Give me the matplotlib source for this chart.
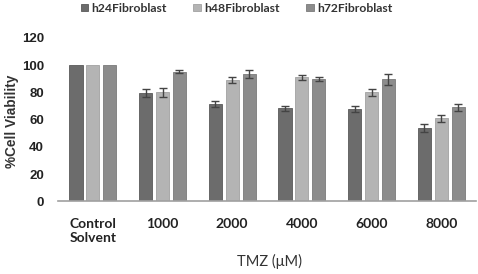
import numpy as np
import matplotlib
matplotlib.use('Agg')
import matplotlib.pyplot as plt

# data
categories = ['Control\nSolvent', '1000', '2000', '4000', '6000', '8000']
series = ['h24Fibroblast', 'h48Fibroblast', 'h72Fibroblast']
h24 = [100, 79.5, 71.5, 68.3, 67.8, 54]
h48 = [100, 80, 89, 91, 80.2, 61]
h72 = [100, 95.2, 93.2, 90, 89.5, 69]
h24_err = [0, 3, 2.5, 2, 2.5, 3]
h48_err = [0, 3.5, 2, 2, 2.5, 2.5]
h72_err = [0, 1.2, 3, 1.5, 4, 2.5]
colors = ['#6c6c6c', '#b4b4b4', '#8c8c8c']
edges = ['#5a5a5a', '#a2a2a2', '#7a7a7a']

fig = plt.figure(figsize=(4.78, 2.74), dpi=100)
ax = fig.add_axes([0.1213, 0.2646, 0.8747, 0.5974])

x = np.arange(len(categories))
width = 0.19
step = 0.243
for i, (vals, errs) in enumerate(zip([h24, h48, h72], [h24_err, h48_err, h72_err])):
    pos = x + (i - 1) * step
    ax.bar(pos, vals, width, color=colors[i], edgecolor=edges[i], linewidth=0.6,
           label=series[i], zorder=2)
    e = np.array(errs, dtype=float)
    mask = e > 0
    ax.errorbar(pos[mask], np.array(vals)[mask], yerr=e[mask], fmt='none',
                ecolor='#444444', elinewidth=1.0, capsize=3, capthick=1.0, zorder=3)

ax.set_xlim(-0.5, len(categories) - 0.5)
ax.set_ylim(0, 120)
ax.set_yticks(range(0, 121, 20))
for s in ['top', 'right', 'left']:
    ax.spines[s].set_visible(False)
ax.spines['bottom'].set_color('#a0a0a0')
ax.spines['bottom'].set_linewidth(1.2)
ax.tick_params(length=0)
ax.tick_params(axis='y', pad=10)
ax.tick_params(axis='x', pad=12)

for lab in ax.get_yticklabels():
    lab.set_fontfamily('Liberation Sans')
    lab.set_fontweight('bold')
    lab.set_fontsize(9.5)
    lab.set_color('#222222')
ax.set_xticks(x)
ax.set_xticklabels(categories, fontfamily='Lato', fontweight='bold', fontsize=10,
                   color='#222222', va='top', multialignment='left')

fig.text(12 / 478, 1 - 121 / 274, '%Cell Viability', rotation=90, ha='center', va='center',
         fontfamily='Liberation Sans', fontweight='bold', fontsize=9.8, color='#333333')
fig.text(0.563, 0.045, 'TMZ (\u03bcM)', ha='center', va='center', fontfamily='Lato',
         fontsize=10.5, color='#333333')

leg = fig.legend(loc='upper center', bbox_to_anchor=(0.495, 1.03), ncol=3, frameon=False,
                 prop={'family': 'Lato', 'weight': 'bold', 'size': 8.7},
                 handlelength=0.6, handleheight=0.6, handletextpad=0.3, columnspacing=2.2)
for t in leg.get_texts():
    t.set_color('#333333')

fig.savefig('out.png', dpi=100)
